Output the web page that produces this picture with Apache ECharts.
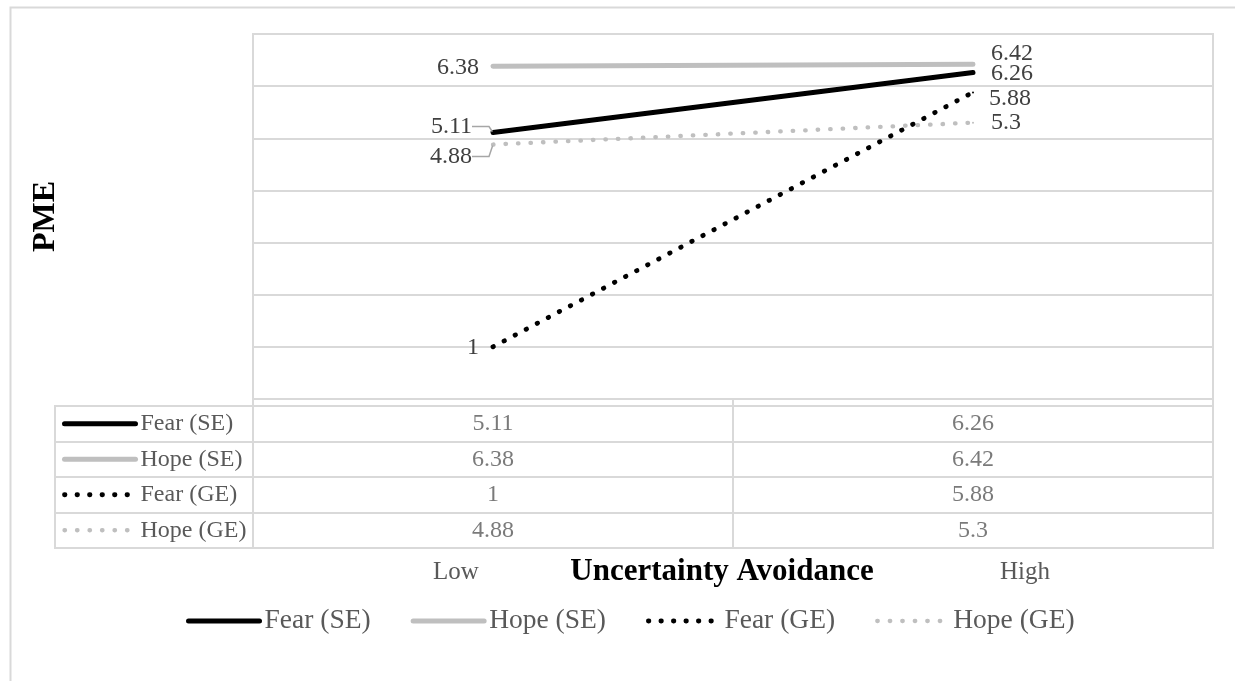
<!DOCTYPE html>
<html>
<head>
<meta charset="utf-8">
<script src="https://cdn.jsdelivr.net/npm/echarts@6/dist/echarts.min.js"></script>
<style>
  html, body { margin: 0; padding: 0; background: #ffffff; }
  #chart { width: 1235px; height: 681px; }
</style>
</head>
<body>
<div id="chart"></div>
<script>
// Uncertainty avoidance (Low / High) vs. PME for the four appeal conditions
const categories = ['Low', 'High'];
const seriesNames = ['Fear (SE)', 'Hope (SE)', 'Fear (GE)', 'Hope (GE)'];
const fearSE = [5.11, 6.26];
const hopeSE = [6.38, 6.42];
const fearGE = [1, 5.88];
const hopeGE = [4.88, 5.3];
const yMin = 0, yMax = 7, yStep = 1;
const xTitle = 'Uncertainty Avoidance';
const yTitle = 'PME';

const values = [fearSE, hopeSE, fearGE, hopeGE];

const FONT = '"Liberation Serif", "Times New Roman", serif';
const GRID_LINE = '#d9d9d9';
const BLACK = '#000000';
const GREY = '#bfbfbf';

// line appearance for each condition
const lineStyles = [
  { color: BLACK, width: 5, type: 'solid', cap: 'round' },
  { color: GREY, width: 5, type: 'solid', cap: 'round' },
  { color: BLACK, width: 4.8, type: [0.5, 12], cap: 'round' },
  { color: GREY, width: 4.3, type: [0.5, 12], cap: 'round' }
];

// label nudges (dx, dy) per condition and category, to keep the labels apart
const labelNudges = [
  [[-7, -6], [0, 1]],
  [[0, 1], [0, -11]],
  [[0, 1], [-2, 6]],
  [[-7, 12], [0, 0]]
];
const withLeader = [[true, false], [false, false], [false, false], [true, false]];

const chart = echarts.init(document.getElementById('chart'), null, { renderer: 'canvas' });

const lineSeries = seriesNames.map((name, s) => ({
  name: name,
  type: 'line',
  xAxisIndex: 0,
  yAxisIndex: 0,
  symbol: 'circle',
  symbolSize: 2,
  showSymbol: true,
  itemStyle: { color: lineStyles[s].color },
  lineStyle: lineStyles[s],
  animation: false,
  z: 10 - s,
  data: values[s].map((v, i) => ({
    value: v,
    label: {
      position: i === 0 ? 'left' : 'right',
      distance: i === 0 ? 13 : 17
    },
    labelLine: {
      show: withLeader[s][i],
      length2: 17,
      lineStyle: { color: '#a6a6a6', width: 1.5 }
    }
  })),
  label: {
    show: true,
    fontFamily: FONT,
    fontSize: 24,
    color: '#404040'
  },
  labelLayout: (p) => {
    const n = labelNudges[s][p.dataIndex];
    return { dx: n[0], dy: n[1] };
  }
}));

// data table cells: one label per (category, condition)
const tableCells = [];
values.forEach((row, r) => row.forEach((v, c) => tableCells.push([c, r, v])));

const option = {
  backgroundColor: '#ffffff',
  animation: false,
  textStyle: { fontFamily: FONT },
  grid: [
    { left: 253, right: 22, top: 34, height: 365, show: true, borderColor: GRID_LINE, borderWidth: 2 },
    { left: 253, right: 22, top: 406, height: 142, show: true, borderColor: GRID_LINE, borderWidth: 2 },
    { left: 55, width: 198, top: 406, height: 142, show: true, borderColor: GRID_LINE, borderWidth: 2 }
  ],
  xAxis: [
    {
      gridIndex: 0, type: 'category', data: categories, boundaryGap: true,
      axisLine: { show: true, lineStyle: { color: GRID_LINE, width: 2 } },
      axisTick: { show: true, length: 7, lineStyle: { color: GRID_LINE, width: 2 } },
      axisLabel: { show: false }
    },
    {
      gridIndex: 1, type: 'category', data: categories, boundaryGap: true,
      axisLine: { show: false }, axisTick: { show: false }, axisLabel: { show: false },
      splitLine: { show: true, lineStyle: { color: GRID_LINE, width: 2 } }
    },
    { gridIndex: 2, type: 'value', min: 0, max: 1, show: false }
  ],
  yAxis: [
    {
      gridIndex: 0, type: 'value', min: yMin, max: yMax, interval: yStep,
      axisLine: { show: false }, axisTick: { show: false }, axisLabel: { show: false },
      splitLine: { show: true, lineStyle: { color: GRID_LINE, width: 2 } },
      name: yTitle, nameLocation: 'middle', nameRotate: 90, nameGap: 191,
      nameTextStyle: { fontFamily: FONT, fontSize: 32, fontWeight: 'bold', color: '#000000' }
    },
    {
      gridIndex: 1, type: 'category', data: seriesNames, inverse: true, boundaryGap: true,
      axisLine: { show: false }, axisTick: { show: false }, axisLabel: { show: false },
      splitLine: { show: true, lineStyle: { color: GRID_LINE, width: 2 } }
    },
    {
      gridIndex: 2, type: 'category', data: seriesNames, inverse: true, boundaryGap: true,
      axisLine: { show: false }, axisTick: { show: false }, axisLabel: { show: false },
      splitLine: { show: true, lineStyle: { color: GRID_LINE, width: 2 } }
    }
  ],
  legend: [
    {
      // key column of the data table
      orient: 'vertical',
      left: 62, top: 406, padding: 0, itemGap: 0,
      itemWidth: 71, itemHeight: 14,
      data: seriesNames,
      selectedMode: false,
      itemStyle: { opacity: 0 },
      lineStyle: { width: 'inherit', type: 'inherit', cap: 'round' },
      textStyle: { fontFamily: FONT, fontSize: 24, color: '#595959', lineHeight: 35.5 }
    },
    {
      // legend below the chart
      orient: 'horizontal',
      left: 186, top: 607, padding: 0, itemGap: 40,
      itemWidth: 71, itemHeight: 14,
      data: seriesNames,
      selectedMode: false,
      itemStyle: { opacity: 0 },
      lineStyle: { width: 'inherit', type: 'inherit', cap: 'round' },
      textStyle: { fontFamily: FONT, fontSize: 27.5, color: '#595959' }
    }
  ],
  graphic: [
    {
      type: 'rect', left: 8, top: 5, silent: true,
      shape: { width: 1240, height: 700 },
      style: { fill: 'none', stroke: GRID_LINE, lineWidth: 2 }
    },
    {
      type: 'text', x: 456, y: 572,
      style: { text: categories[0], font: '25px ' + FONT, fill: '#595959', align: 'center', verticalAlign: 'middle' }
    },
    {
      type: 'text', x: 722, y: 572,
      style: { text: xTitle, font: 'bold 31px ' + FONT, fill: '#000000', align: 'center', verticalAlign: 'middle' }
    },
    {
      type: 'text', x: 1025, y: 572,
      style: { text: categories[1], font: '25px ' + FONT, fill: '#595959', align: 'center', verticalAlign: 'middle' }
    }
  ],
  series: lineSeries.concat([
    {
      name: 'table',
      type: 'scatter',
      xAxisIndex: 1,
      yAxisIndex: 1,
      symbolSize: 1,
      itemStyle: { color: 'rgba(0,0,0,0)' },
      silent: true,
      data: tableCells,
      label: {
        show: true,
        position: 'inside',
        fontFamily: FONT,
        fontSize: 24,
        color: '#595959',
        formatter: (p) => String(p.value[2])
      }
    }
  ])
};

chart.setOption(option);
</script>
</body>
</html>
